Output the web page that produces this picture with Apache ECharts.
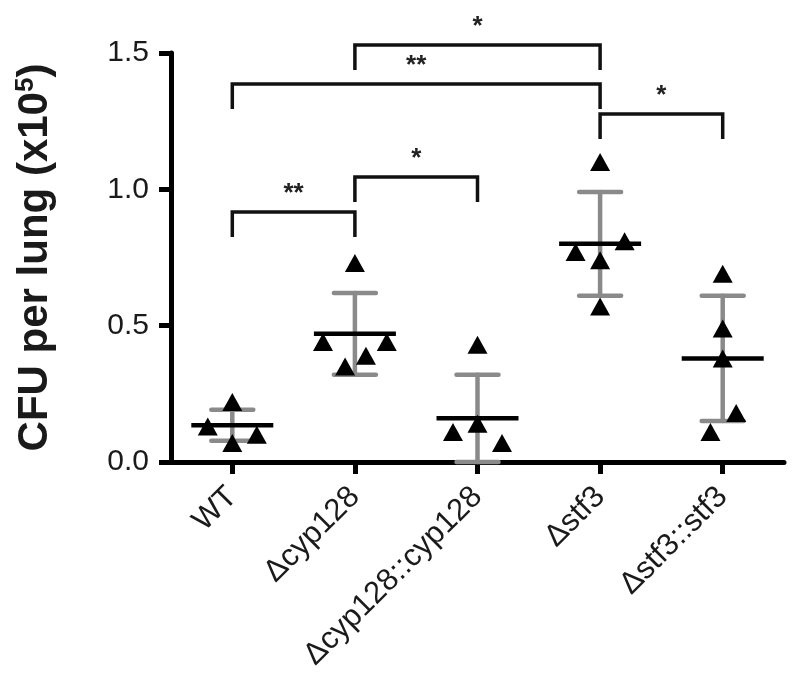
<!DOCTYPE html>
<html><head><meta charset="utf-8">
<script src="https://cdn.jsdelivr.net/npm/echarts@6/dist/echarts.min.js"></script>
<style>html,body{margin:0;padding:0;background:#fff}#c{width:800px;height:698px}</style>
</head><body><div id="c"></div>
<script>
const categories = ['WT', 'Δcyp128', 'Δcyp128::cyp128', 'Δstf3', 'Δstf3::stf3'];
const yTicks = [0, 0.5, 1.0, 1.5];

// individual animals (CFU x10^5) and horizontal jitter within each column
const wtValues = [0.22, 0.13, 0.10, 0.07];
const wtJitter = [0, -0.2, 0.2, 0];
const cypValues = [0.73, 0.44, 0.44, 0.39, 0.35];
const cypJitter = [0, -0.26, 0.26, 0.09, -0.08];
const cypCompValues = [0.43, 0.14, 0.11, 0.07];
const cypCompJitter = [0, 0, -0.2, 0.2];
const stfValues = [1.10, 0.81, 0.77, 0.74, 0.57];
const stfJitter = [0, 0.2, -0.2, 0, 0];
const stfCompValues = [0.69, 0.49, 0.38, 0.18, 0.11];
const stfCompJitter = [0, 0, 0, 0.11, -0.1];

// mean and SD per group
const groupMeans = [0.135, 0.47, 0.16, 0.80, 0.38];
const groupSD = [0.057, 0.15, 0.16, 0.19, 0.23];

// significance brackets
const bracketFrom = [0, 1, 0, 1, 3];
const bracketTo = [1, 2, 3, 3, 4];
const bracketHeight = [0.917, 1.045, 1.386, 1.529, 1.276];
const bracketLabels = ['**', '*', '**', '*', '*'];

const groupValues = [wtValues, cypValues, cypCompValues, stfValues, stfCompValues];
const groupJitter = [wtJitter, cypJitter, cypCompJitter, stfJitter, stfCompJitter];

const pointData = [];
groupValues.forEach((vals, g) => vals.forEach((v, k) => pointData.push([g + groupJitter[g][k], v])));
const statData = groupMeans.map((m, i) => [i, m, groupSD[i]]);
const bracketData = bracketFrom.map((f, i) => [f, bracketTo[i], bracketHeight[i], i]);

const FONT = "'Liberation Sans', Arial, sans-serif";
const chart = echarts.init(document.getElementById('c'), null, {renderer: 'canvas'});

chart.setOption({
  animation: false,
  backgroundColor: '#fff',
  grid: {left: 171, right: 16, top: 53, bottom: 236, containLabel: false},
  xAxis: [{
    type: 'category',
    data: categories,
    boundaryGap: true,
    axisLine: {show: true, lineStyle: {color: '#000', width: 5}},
    axisTick: {show: true, alignWithLabel: true, length: 12, lineStyle: {color: '#000', width: 5}},
    axisLabel: {rotate: 45, fontSize: 31, color: '#1a1a1a', fontFamily: FONT, margin: 30, interval: 0},
    splitLine: {show: false}
  }, {
    type: 'value', min: -0.5, max: 4.5, show: false
  }],
  yAxis: {
    type: 'value', min: 0, max: 1.5, interval: 0.5,
    name: 'CFU per lung (x10{sup|5})',
    nameLocation: 'middle', nameGap: 114, nameRotate: 90,
    nameTextStyle: {fontSize: 42, fontWeight: 'bold', color: '#1a1a1a', fontFamily: FONT,
      rich: {sup: {fontSize: 26, fontWeight: 'bold', color: '#1a1a1a', fontFamily: FONT, padding: [0, 0, 18, 0]}}},
    axisLine: {show: true, onZero: false, lineStyle: {color: '#000', width: 5}},
    axisTick: {show: true, length: 12, lineStyle: {color: '#000', width: 5}},
    axisLabel: {fontSize: 30, color: '#1a1a1a', fontFamily: FONT, margin: 22,
      formatter: v => yTicks.includes(v) ? v.toFixed(1) : ''},
    splitLine: {show: false}
  },
  series: [{
    type: 'custom', xAxisIndex: 1, data: statData, z: 2,
    renderItem: (params, api) => {
      const x = api.value(0), m = api.value(1), s = api.value(2);
      const t = api.coord([x, m + s]), b = api.coord([x, Math.max(0, m - s)]);
      const st = {stroke: '#8a8a8a', lineWidth: 4.5, lineCap: 'round'};
      return {type: 'group', children: [
        {type: 'line', shape: {x1: t[0], y1: t[1], x2: b[0], y2: b[1]}, style: st},
        {type: 'line', shape: {x1: t[0] - 21, y1: t[1], x2: t[0] + 21, y2: t[1]}, style: st},
        {type: 'line', shape: {x1: b[0] - 21, y1: b[1], x2: b[0] + 21, y2: b[1]}, style: st}
      ]};
    }
  }, {
    type: 'custom', xAxisIndex: 1, data: statData, z: 3,
    renderItem: (params, api) => {
      const c = api.coord([api.value(0), api.value(1)]);
      return {type: 'line', shape: {x1: c[0] - 41, y1: c[1], x2: c[0] + 41, y2: c[1]},
        style: {stroke: '#000', lineWidth: 4.5}};
    }
  }, {
    type: 'scatter', xAxisIndex: 1, data: pointData, z: 4,
    symbol: 'triangle', symbolSize: [20, 18],
    itemStyle: {color: '#000', opacity: 1}
  }, {
    type: 'custom', xAxisIndex: 1, data: bracketData, clip: false, z: 5,
    renderItem: (params, api) => {
      const f = api.value(0), t = api.value(1), h = api.value(2), idx = api.value(3);
      const a = api.coord([f, h]), b = api.coord([t, h]);
      const leg = 25;
      return {type: 'group', children: [
        {type: 'polyline', shape: {points: [[a[0], a[1] + leg], [a[0], a[1]], [b[0], b[1]], [b[0], b[1] + leg]]},
          style: {stroke: '#111', lineWidth: 3.5, fill: null}},
        {type: 'text', style: {text: bracketLabels[idx], x: (a[0] + b[0]) / 2, y: a[1] - 18,
          align: 'center', verticalAlign: 'middle', fontSize: 26, fontWeight: 'bold', fontFamily: FONT, fill: '#222'}}
      ]};
    }
  }]
});
</script>
</body></html>
